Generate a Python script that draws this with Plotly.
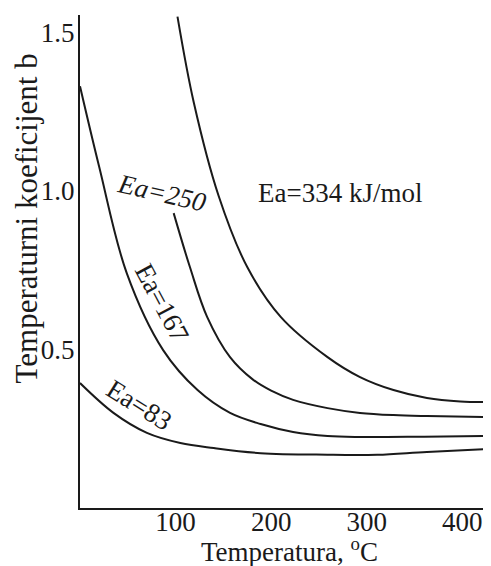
import plotly.graph_objects as go

# Temperature (deg C) and coefficient b
T334 = [102, 119, 145, 175, 210, 259, 293, 328, 363, 398, 429]
b334 = [1.55, 1.28, 0.985, 0.76, 0.603, 0.476, 0.413, 0.372, 0.347, 0.336, 0.334]

T250 = [98, 115, 133, 157, 181, 200, 223, 259, 293, 328, 363, 429]
b250 = [0.93, 0.76, 0.603, 0.476, 0.405, 0.37, 0.341, 0.315, 0.300, 0.293, 0.290, 0.287]

T167 = [0, 20, 49, 87, 123, 157, 189, 223, 259, 293, 360, 427]
b167 = [1.33, 1.077, 0.740, 0.498, 0.372, 0.300, 0.265, 0.240, 0.227, 0.224, 0.225, 0.227]

T83 = [0, 35, 70, 105, 140, 189, 259, 311, 363, 429]
b83 = [0.394, 0.300, 0.237, 0.205, 0.189, 0.173, 0.168, 0.168, 0.177, 0.186]

x_ticks = [100, 200, 300, 400]
y_ticks = [0.5, 1.0, 1.5]
y_tick_text = ["0.5", "1.0", "1.5"]

FONT = "Liberation Serif, Times New Roman, serif"
INK = "#1a1a1a"

fig = go.Figure()
for xs, ys in [(T334, b334), (T250, b250), (T167, b167), (T83, b83)]:
    fig.add_trace(go.Scatter(x=xs, y=ys, mode="lines",
                             line=dict(color=INK, width=2, shape="spline"),
                             showlegend=False, hoverinfo="skip"))

labels = [
    dict(x=86, y=0.994, text="<i>Ea=250</i>", textangle=13),
    dict(x=272, y=0.994, text="Ea=334 kJ/mol", textangle=0),
    dict(x=86, y=0.647, text="Ea=167", textangle=62),
    dict(x=62, y=0.325, text="Ea=83", textangle=32),
]
for lb in labels:
    fig.add_annotation(x=lb["x"], y=lb["y"], xref="x", yref="y", text=lb["text"],
                       textangle=lb["textangle"], showarrow=False,
                       xanchor="center", yanchor="middle",
                       font=dict(family=FONT, size=27, color=INK))

fig.add_annotation(x=0.512, y=-0.085, xref="paper", yref="paper",
                   text="Temperatura, <sup>o</sup>C", showarrow=False,
                   xanchor="center", yanchor="middle",
                   font=dict(family=FONT, size=27, color=INK))
fig.add_annotation(x=-0.131, y=0.588, xref="paper", yref="paper",
                   text="Temperaturni koeficijent b", textangle=-90, showarrow=False,
                   xanchor="center", yanchor="middle",
                   font=dict(family=FONT, size=31, color=INK))

fig.update_layout(
    width=483, height=558,
    margin=dict(l=72, r=1, t=7, b=58),
    paper_bgcolor="white", plot_bgcolor="white",
    font=dict(family=FONT, size=27, color=INK),
)
fig.update_xaxes(range=[0, 429], tickvals=x_ticks, showgrid=False, zeroline=False,
                 showline=True, linewidth=2, linecolor=INK, ticks="",
                 ticklabelstandoff=-11,
                 tickfont=dict(family=FONT, size=27, color=INK))
fig.update_yaxes(range=[0, 1.555], tickvals=y_ticks, ticktext=y_tick_text,
                 showgrid=False, zeroline=False,
                 showline=True, linewidth=2, linecolor=INK, ticks="",
                 ticklabelstandoff=-2,
                 tickfont=dict(family=FONT, size=27, color=INK))

fig.write_html("out.html")
